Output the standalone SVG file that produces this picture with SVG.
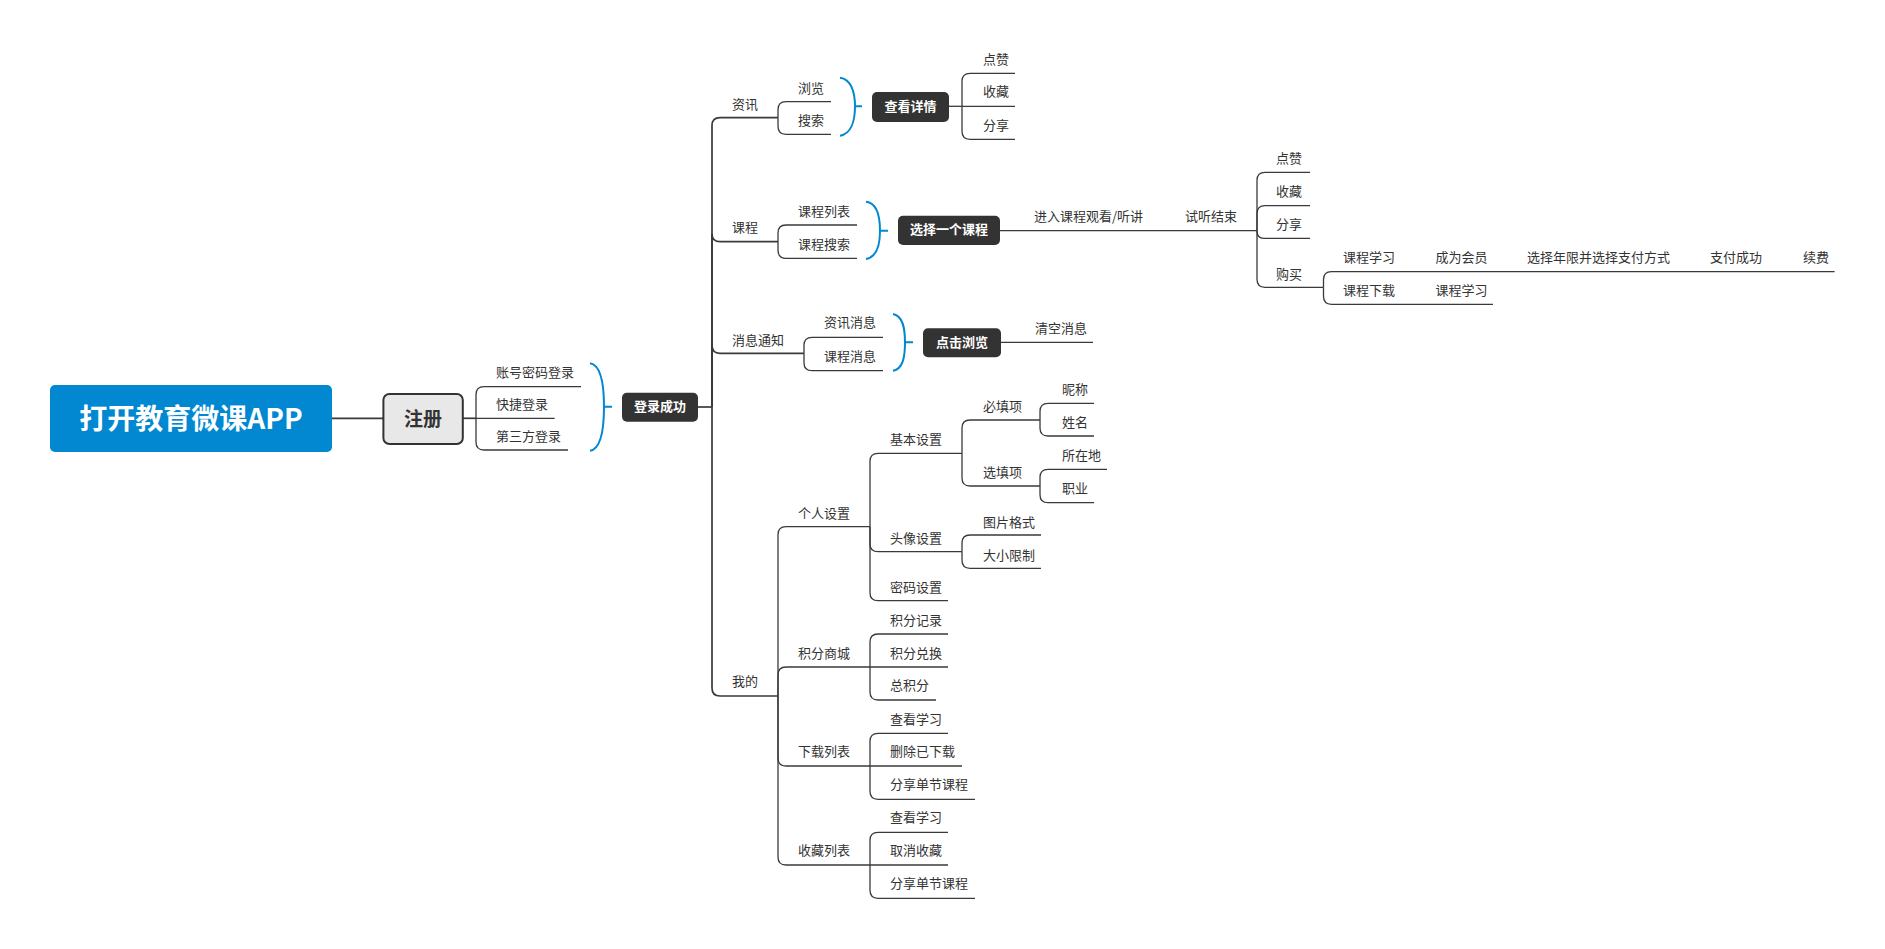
<svg xmlns="http://www.w3.org/2000/svg" width="1885" height="949" viewBox="0 0 1885 949">
<style>
.t{font-family:"Noto Sans CJK SC","Liberation Sans",sans-serif;font-size:13px;fill:#333}
.ln{fill:none;stroke:#3a3a3a;stroke-width:1.3}
.lt{fill:none;stroke:#3a3a3a;stroke-width:1.7}
.br{fill:none;stroke:#0288d1;stroke-width:2}
.dn{fill:#333}
.dt{font-family:"Noto Sans CJK SC","Liberation Sans",sans-serif;font-size:13px;font-weight:bold;fill:#fff;text-anchor:middle}
</style>
<rect width="1885" height="949" fill="#fff"/>
<g id="connectors">
<path class="lt" d="M331.5 418.3H383.4"/>
<path class="lt" d="M462.8 418.3H476"/>
<path class="ln" d="M476 418.3V394.7Q476 386.7 484 386.7H581"/>
<path class="ln" d="M476 418.3H554.6"/>
<path class="ln" d="M476 418.3V442Q476 450 484 450H568"/>
<path class="br" d="M590 363.3C601 365 604 385 604 406.7C604 428 601 449 590 450.7M604 406.7H612"/>
<path class="lt" d="M698 407H712"/>
<path class="lt" d="M712 407V125.7Q712 117.7 720 117.7H778"/>
<path class="lt" d="M712 407V233.7Q712 241.7 720 241.7H778"/>
<path class="lt" d="M712 407V345.3Q712 353.3 720 353.3H804"/>
<path class="lt" d="M712 407V688Q712 696 720 696H778"/>
<path class="ln" d="M778 117.7V109.7Q778 101.7 786 101.7H831"/>
<path class="ln" d="M778 117.7V126.3Q778 134.3 786 134.3H831"/>
<path class="br" d="M840 77.7C851 79 855 92 855 106.3C855 121 851 134 840 135.7M855 106.3H862"/>
<path class="ln" d="M949 106.3H962"/>
<path class="ln" d="M962 106.3V81.3Q962 73.3 970 73.3H1015"/>
<path class="ln" d="M962 106.3H1015"/>
<path class="ln" d="M962 106.3V131.3Q962 139.3 970 139.3H1015"/>
<path class="ln" d="M778 241.7V233Q778 225 786 225H857"/>
<path class="ln" d="M778 241.7V250.3Q778 258.3 786 258.3H857"/>
<path class="br" d="M866 201.7C877 203 880 216 880 230.7C880 245 877 257 866 259M880 230.7H888"/>
<path class="ln" d="M1000 230.7H1257"/>
<path class="ln" d="M1257 230.7V180.3Q1257 172.3 1265 172.3H1310"/>
<path class="ln" d="M1257 230.7V213.7Q1257 205.7 1265 205.7H1310"/>
<path class="ln" d="M1257 230.7V231.3Q1257 238.3 1264 238.3H1310"/>
<path class="ln" d="M1257 230.7V279.3Q1257 287.3 1265 287.3H1323.5"/>
<path class="ln" d="M1323.5 287.3V279.7Q1323.5 271.7 1331.5 271.7H1834.6"/>
<path class="ln" d="M1323.5 287.3V296.3Q1323.5 304.3 1331.5 304.3H1493"/>
<path class="ln" d="M804 353.3V345.3Q804 337.3 812 337.3H883"/>
<path class="ln" d="M804 353.3V362.7Q804 370.7 812 370.7H883"/>
<path class="br" d="M893 314C903 316 905 328 905 342.3C905 357 903 369 893 370.7M905 342.3H913"/>
<path class="ln" d="M1001 342.3H1093"/>
<path class="ln" d="M778 696V534.7Q778 526.7 786 526.7H870"/>
<path class="ln" d="M778 696V675Q778 667 786 667H870"/>
<path class="ln" d="M778 696V758Q778 766 786 766H870"/>
<path class="ln" d="M778 696V857Q778 865 786 865H870"/>
<path class="ln" d="M870 526.7V461.3Q870 453.3 878 453.3H962"/>
<path class="ln" d="M870 526.7V543.7Q870 551.7 878 551.7H962"/>
<path class="ln" d="M870 526.7V592.7Q870 600.7 878 600.7H948"/>
<path class="ln" d="M962 453.3V428Q962 420 970 420H1040"/>
<path class="ln" d="M962 453.3V478Q962 486 970 486H1040"/>
<path class="ln" d="M1040 420V411.3Q1040 403.3 1048 403.3H1094"/>
<path class="ln" d="M1040 420V428Q1040 436 1048 436H1094"/>
<path class="ln" d="M1040 486V477.3Q1040 469.3 1048 469.3H1107"/>
<path class="ln" d="M1040 486V494.7Q1040 502.7 1048 502.7H1094"/>
<path class="ln" d="M962 551.7V543Q962 535 970 535H1041"/>
<path class="ln" d="M962 551.7V560.3Q962 568.3 970 568.3H1041"/>
<path class="ln" d="M870 667V642Q870 634 878 634H948"/>
<path class="ln" d="M870 667H948"/>
<path class="ln" d="M870 667V692Q870 700 878 700H936"/>
<path class="ln" d="M870 766V741.3Q870 733.3 878 733.3H948"/>
<path class="ln" d="M870 766H962"/>
<path class="ln" d="M870 766V791.3Q870 799.3 878 799.3H975"/>
<path class="ln" d="M870 865V840.3Q870 832.3 878 832.3H948"/>
<path class="ln" d="M870 865H948"/>
<path class="ln" d="M870 865V890.3Q870 898.3 878 898.3H975"/>
</g>
<g id="n-main"><rect x="50" y="385" width="282" height="67" rx="5" fill="#0288d1"/><text x="191" y="428.5" text-anchor="middle" font-family="Noto Sans CJK SC, Liberation Sans, sans-serif" font-size="28" font-weight="bold" fill="#fff">打开教育微课APP</text></g>
<g id="n-reg"><rect x="383.4" y="394" width="79.4" height="50" rx="6" fill="#e8e8e8" stroke="#333" stroke-width="2"/><text x="423" y="426" text-anchor="middle" font-family="Noto Sans CJK SC, Liberation Sans, sans-serif" font-size="19" font-weight="bold" fill="#333">注册</text></g>
<g id="n-login-opts"><text class="t" x="496" y="376.8">账号密码登录</text><text class="t" x="496" y="408.5">快捷登录</text><text class="t" x="496" y="440.8">第三方登录</text></g>
<g id="n-login"><rect class="dn" x="622" y="392.7" width="76" height="29" rx="5"/><text class="dt" x="660" y="411">登录成功</text></g>
<g id="n-zixun"><text class="t" x="732" y="109.2">资讯</text><text class="t" x="798" y="92.5">浏览</text><text class="t" x="798" y="124.5">搜索</text></g>
<g id="n-detail"><rect class="dn" x="872" y="92" width="77" height="30" rx="5"/><text class="dt" x="910.5" y="110.7">查看详情</text></g>
<g id="n-detail-ops"><text class="t" x="983" y="64.2">点赞</text><text class="t" x="983" y="96.2">收藏</text><text class="t" x="983" y="129.5">分享</text></g>
<g id="n-course"><text class="t" x="732" y="231.8">课程</text><text class="t" x="798" y="216.2">课程列表</text><text class="t" x="798" y="249.2">课程搜索</text></g>
<g id="n-select"><rect class="dn" x="898" y="215.7" width="102" height="29.3" rx="5"/><text class="dt" x="949" y="234.3">选择一个课程</text></g>
<g id="n-enter"><text class="t" x="1034" y="221.2">进入课程观看/听讲</text><text class="t" x="1185" y="221.2">试听结束</text></g>
<g id="n-trial-ops"><text class="t" x="1276" y="162.5">点赞</text><text class="t" x="1276" y="195.8">收藏</text><text class="t" x="1276" y="229.2">分享</text><text class="t" x="1276" y="278.5">购买</text></g>
<g id="n-buy"><text class="t" x="1343" y="261.8">课程学习</text><text class="t" x="1435.5" y="261.8">成为会员</text><text class="t" x="1527" y="261.8">选择年限并选择支付方式</text><text class="t" x="1710" y="261.8">支付成功</text><text class="t" x="1803" y="261.8">续费</text><text class="t" x="1343" y="295.2">课程下载</text><text class="t" x="1435.5" y="295.2">课程学习</text></g>
<g id="n-msg"><text class="t" x="732" y="345.2">消息通知</text><text class="t" x="824" y="326.8">资讯消息</text><text class="t" x="824" y="360.8">课程消息</text></g>
<g id="n-click"><rect class="dn" x="923" y="328.3" width="78" height="29" rx="5"/><text class="dt" x="962" y="346.5">点击浏览</text></g>
<g id="n-clear"><text class="t" x="1035" y="332.8">清空消息</text></g>
<g id="n-mine"><text class="t" x="732" y="686.2">我的</text></g>
<g id="n-personal"><text class="t" x="798" y="517.5">个人设置</text><text class="t" x="890" y="443.5">基本设置</text><text class="t" x="890" y="542.8">头像设置</text><text class="t" x="890" y="591.8">密码设置</text><text class="t" x="983" y="411.2">必填项</text><text class="t" x="983" y="476.8">选填项</text><text class="t" x="1062" y="394.2">昵称</text><text class="t" x="1062" y="426.8">姓名</text><text class="t" x="1062" y="460.2">所在地</text><text class="t" x="1062" y="492.8">职业</text><text class="t" x="983" y="526.8">图片格式</text><text class="t" x="983" y="559.5">大小限制</text></g>
<g id="n-points"><text class="t" x="798" y="657.5">积分商城</text><text class="t" x="890" y="624.5">积分记录</text><text class="t" x="890" y="657.5">积分兑换</text><text class="t" x="890" y="690.2">总积分</text></g>
<g id="n-download"><text class="t" x="798" y="756.2">下载列表</text><text class="t" x="890" y="723.5">查看学习</text><text class="t" x="890" y="756.2">删除已下载</text><text class="t" x="890" y="788.5">分享单节课程</text></g>
<g id="n-fav"><text class="t" x="798" y="855.2">收藏列表</text><text class="t" x="890" y="821.8">查看学习</text><text class="t" x="890" y="855.2">取消收藏</text><text class="t" x="890" y="887.5">分享单节课程</text></g>
</svg>
